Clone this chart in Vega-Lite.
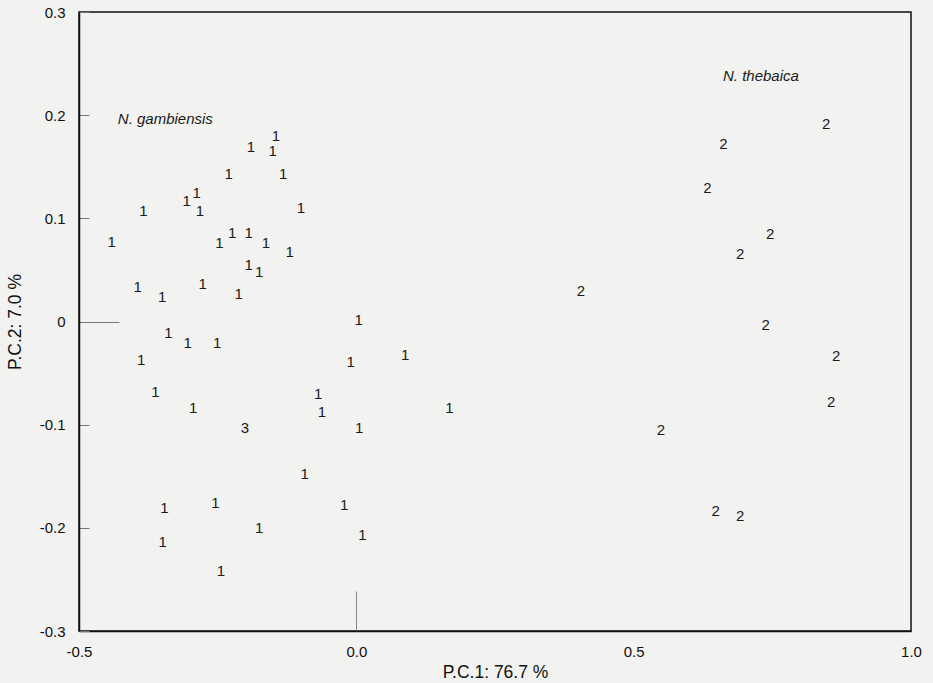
{
  "$schema": "https://vega.github.io/schema/vega-lite/v6.json",
  "width": 832,
  "height": 619,
  "autosize": {"type": "none"},
  "padding": {"left": 79, "top": 12, "right": 22, "bottom": 52},
  "background": "#f2f2f0",
  "config": {
    "view": {"stroke": "#111111", "strokeWidth": 1.5},
    "font": "Liberation Sans",
    "text": {"font": "Liberation Sans"}
  },
  "datasets": {
    "scores": [
      {"pc1": -0.145, "pc2": 0.180, "group": "1"},
      {"pc1": -0.190, "pc2": 0.169, "group": "1"},
      {"pc1": -0.151, "pc2": 0.165, "group": "1"},
      {"pc1": -0.230, "pc2": 0.143, "group": "1"},
      {"pc1": -0.132, "pc2": 0.143, "group": "1"},
      {"pc1": -0.306, "pc2": 0.117, "group": "1"},
      {"pc1": -0.288, "pc2": 0.125, "group": "1"},
      {"pc1": -0.282, "pc2": 0.107, "group": "1"},
      {"pc1": -0.100, "pc2": 0.110, "group": "1"},
      {"pc1": -0.247, "pc2": 0.076, "group": "1"},
      {"pc1": -0.224, "pc2": 0.086, "group": "1"},
      {"pc1": -0.194, "pc2": 0.086, "group": "1"},
      {"pc1": -0.163, "pc2": 0.076, "group": "1"},
      {"pc1": -0.120, "pc2": 0.067, "group": "1"},
      {"pc1": -0.194, "pc2": 0.055, "group": "1"},
      {"pc1": -0.175, "pc2": 0.048, "group": "1"},
      {"pc1": -0.277, "pc2": 0.036, "group": "1"},
      {"pc1": -0.212, "pc2": 0.027, "group": "1"},
      {"pc1": -0.384, "pc2": 0.107, "group": "1"},
      {"pc1": -0.441, "pc2": 0.077, "group": "1"},
      {"pc1": -0.394, "pc2": 0.033, "group": "1"},
      {"pc1": -0.350, "pc2": 0.024, "group": "1"},
      {"pc1": -0.339, "pc2": -0.011, "group": "1"},
      {"pc1": -0.304, "pc2": -0.021, "group": "1"},
      {"pc1": -0.251, "pc2": -0.021, "group": "1"},
      {"pc1": -0.388, "pc2": -0.037, "group": "1"},
      {"pc1": -0.362, "pc2": -0.068, "group": "1"},
      {"pc1": -0.294, "pc2": -0.084, "group": "1"},
      {"pc1": -0.346, "pc2": -0.181, "group": "1"},
      {"pc1": -0.254, "pc2": -0.176, "group": "1"},
      {"pc1": -0.175, "pc2": -0.200, "group": "1"},
      {"pc1": -0.349, "pc2": -0.214, "group": "1"},
      {"pc1": -0.244, "pc2": -0.242, "group": "1"},
      {"pc1": 0.004, "pc2": 0.001, "group": "1"},
      {"pc1": 0.088, "pc2": -0.032, "group": "1"},
      {"pc1": -0.010, "pc2": -0.039, "group": "1"},
      {"pc1": -0.069, "pc2": -0.070, "group": "1"},
      {"pc1": -0.062, "pc2": -0.088, "group": "1"},
      {"pc1": 0.168, "pc2": -0.084, "group": "1"},
      {"pc1": 0.005, "pc2": -0.103, "group": "1"},
      {"pc1": -0.093, "pc2": -0.148, "group": "1"},
      {"pc1": -0.022, "pc2": -0.178, "group": "1"},
      {"pc1": 0.011, "pc2": -0.207, "group": "1"},
      {"pc1": -0.201, "pc2": -0.103, "group": "3"},
      {"pc1": 0.847, "pc2": 0.191, "group": "2"},
      {"pc1": 0.662, "pc2": 0.172, "group": "2"},
      {"pc1": 0.633, "pc2": 0.129, "group": "2"},
      {"pc1": 0.746, "pc2": 0.085, "group": "2"},
      {"pc1": 0.692, "pc2": 0.065, "group": "2"},
      {"pc1": 0.405, "pc2": 0.030, "group": "2"},
      {"pc1": 0.738, "pc2": -0.003, "group": "2"},
      {"pc1": 0.865, "pc2": -0.033, "group": "2"},
      {"pc1": 0.856, "pc2": -0.078, "group": "2"},
      {"pc1": 0.549, "pc2": -0.105, "group": "2"},
      {"pc1": 0.648, "pc2": -0.184, "group": "2"},
      {"pc1": 0.692, "pc2": -0.189, "group": "2"}
    ],
    "labels": [
      {"pc1": -0.430, "pc2": 0.196, "label": "N. gambiensis"},
      {"pc1": 0.661, "pc2": 0.238, "label": "N. thebaica"}
    ]
  },
  "layer": [
    {
      "data": {"name": "scores"},
      "mark": {"type": "text", "fontSize": 15, "color": "#1a1a1a", "align": "center", "baseline": "middle"},
      "encoding": {
        "x": {
          "field": "pc1",
          "type": "quantitative",
          "scale": {"domain": [-0.5, 1.0], "nice": false, "zero": false},
          "axis": {
            "title": "P.C.1: 76.7 %",
            "values": [-0.5, 0, 0.5, 1.0],
            "grid": false,
            "domainColor": "#111111",
            "domainWidth": 1.5,
            "tickColor": "#888888",
            "tickWidth": 1,
            "tickSize": {"condition": {"test": "datum.value === 0", "value": -40}, "value": 0},
            "labelPadding": {"condition": {"test": "datum.value === 0", "value": 53}, "value": 13},
            "labelExpr": "replace(format(datum.value, '.1f'), '\u2212', '-')",
            "labelFontSize": 15,
            "labelColor": "#111111",
            "labelFlush": false,
            "labelOverlap": false,
            "titleFontSize": 17.5,
            "titleFontWeight": "normal",
            "titleColor": "#111111",
            "titlePadding": 4
          }
        },
        "y": {
          "field": "pc2",
          "type": "quantitative",
          "scale": {"domain": [-0.3, 0.3], "nice": false, "zero": false},
          "axis": {
            "title": "P.C.2: 7.0 %",
            "values": [-0.3, -0.2, -0.1, 0, 0.1, 0.2, 0.3],
            "grid": false,
            "domainColor": "#111111",
            "domainWidth": 1.5,
            "tickColor": "#777777",
            "tickWidth": 1,
            "tickSize": {"condition": {"test": "datum.value === 0", "value": -40}, "value": -10},
            "labelPadding": {"condition": {"test": "datum.value === 0", "value": 54}, "value": 24},
            "labelExpr": "datum.value === 0 ? '0' : replace(format(datum.value, '.1f'), '\u2212', '-')",
            "labelFontSize": 15,
            "labelColor": "#111111",
            "labelFlush": false,
            "labelOverlap": false,
            "titleFontSize": 17.5,
            "titleFontWeight": "normal",
            "titleColor": "#111111",
            "titlePadding": 15
          }
        },
        "text": {"field": "group", "type": "nominal"}
      }
    },
    {
      "data": {"name": "labels"},
      "mark": {"type": "text", "fontSize": 15, "fontStyle": "italic", "color": "#1a1a1a", "align": "left", "baseline": "middle"},
      "encoding": {
        "x": {"field": "pc1", "type": "quantitative"},
        "y": {"field": "pc2", "type": "quantitative"},
        "text": {"field": "label", "type": "nominal"}
      }
    }
  ]
}
